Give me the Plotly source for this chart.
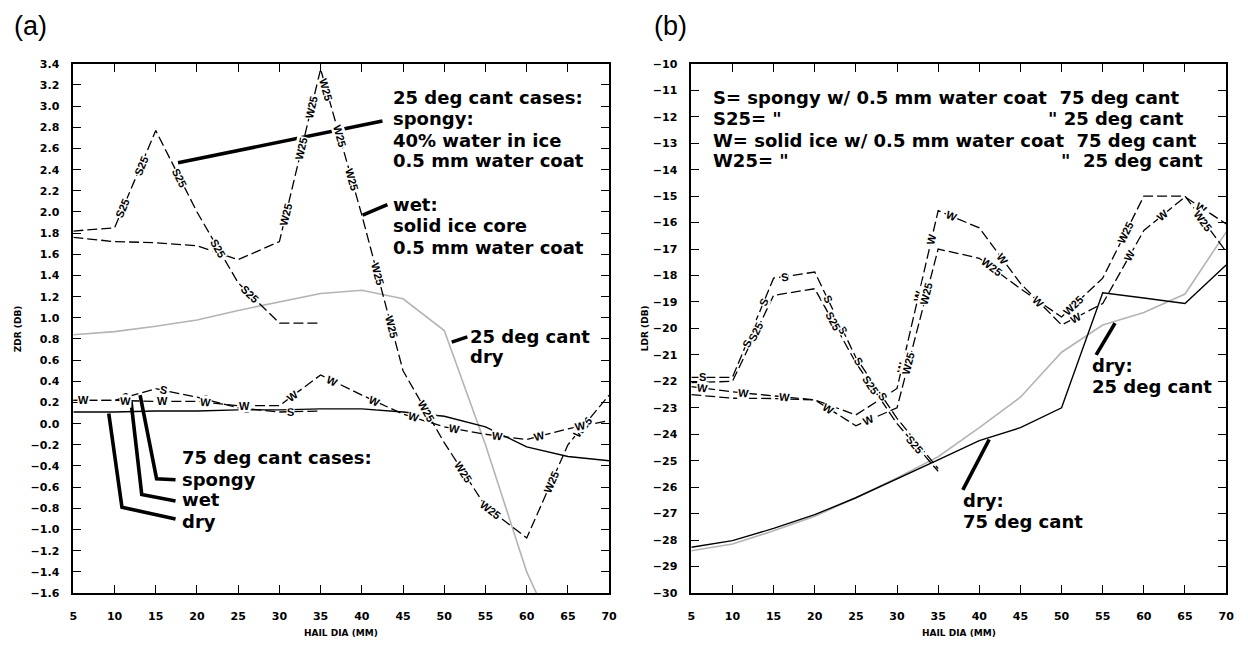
import math
import numpy as np
import plotly.graph_objects as go

W_PX, H_PX = 1248, 649

# ---------------------------------------------------------------- data
DIA = [5, 10, 15, 20, 25, 30, 35, 40, 45, 50, 55, 60, 65, 70]   # hail diameter (mm)
DIA_SHORT = DIA[:7]                                             # spongy cases stop at 35 mm

# Panel (a): ZDR (dB)
zdr_dry_75 = [0.11, 0.11, 0.12, 0.12, 0.13, 0.13, 0.14, 0.14, 0.11, 0.07, -0.03, -0.22, -0.31, -0.35]
zdr_dry_25 = [0.84, 0.87, 0.92, 0.98, 1.07, 1.15, 1.23, 1.26, 1.18, 0.88, -0.20, -1.40, -2.25]
zdr_spongy_75 = [0.22, 0.22, 0.33, 0.25, 0.15, 0.11, 0.12]
zdr_wet_75 = [0.22, 0.22, 0.21, 0.21, 0.17, 0.17, 0.46, 0.27, 0.09, -0.03, -0.10, -0.15, -0.05, 0.03]
zdr_spongy_25 = [1.82, 1.85, 2.77, 2.00, 1.33, 0.95, 0.95]
zdr_wet_25 = [1.76, 1.72, 1.71, 1.68, 1.55, 1.72, 3.35, 1.97, 0.50, -0.18, -0.78, -1.08, -0.20, 0.27]

# Panel (b): LDR (dB)
ldr_dry_75 = [-28.27, -28.02, -27.56, -27.04, -26.40, -25.70, -24.97, -24.24, -23.75, -23.00, -18.65, -18.85, -19.06, -17.60]
ldr_dry_25 = [-28.40, -28.15, -27.65, -27.10, -26.40, -25.65, -24.85, -23.75, -22.60, -20.90, -19.87, -19.40, -18.70, -16.36]
ldr_spongy_75 = [-21.85, -21.85, -18.10, -17.87, -21.10, -23.40, -25.30]
ldr_spongy_25 = [-22.05, -22.00, -18.75, -18.50, -21.30, -23.60, -25.40]
ldr_wet_75 = [-22.20, -22.40, -22.55, -22.70, -23.27, -22.27, -15.55, -16.20, -18.30, -19.87, -19.06, -16.30, -15.03, -16.05]
ldr_wet_25 = [-22.50, -22.64, -22.65, -22.70, -23.68, -23.00, -17.00, -17.35, -18.50, -19.57, -18.10, -15.00, -15.00, -17.10]

ZDR_TICKS = [round(-1.6 + 0.2 * i, 1) for i in range(26)]
LDR_TICKS = list(range(-30, -9))

# ---------------------------------------------------------------- layout geometry (pixels)
PLOT_TOP, PLOT_BOT = 59, 599
A_LEFT, A_RIGHT = 70, 611
B_LEFT, B_RIGHT = 694, 1234
ZDR_RANGE = [-1.6, 3.4]
LDR_RANGE = [-30, -10]

SX_A = (A_RIGHT - A_LEFT) / 65.0
SY_A = (PLOT_BOT - PLOT_TOP) / (ZDR_RANGE[1] - ZDR_RANGE[0])
SX_B = (B_RIGHT - B_LEFT) / 65.0
SY_B = (PLOT_BOT - PLOT_TOP) / (LDR_RANGE[1] - LDR_RANGE[0])

DASH = "10px,4px"
GRAY = "#b4b4b4"
LABEL_FONT = dict(family="Liberation Sans", size=11, color="black", weight="bold")
NOTE_FONT = dict(family="DejaVu Sans", size=18, color="black", weight="bold")
TICK_FONT = dict(family="DejaVu Sans", size=11, color="black", weight="bold")

fig = go.Figure()


def add_curve(x, y, xa, ya, color="black", dash=None, width=1.3):
    fig.add_trace(go.Scatter(
        x=x, y=y, xaxis=xa, yaxis=ya, mode="lines", hoverinfo="skip",
        line=dict(color=color, width=width, dash=dash), showlegend=False))


def add_inline_labels(x, y, spots, xa, ya, sx, sy):
    """Write curve tags along a line, rotated to the local segment direction."""
    xs = np.asarray(x, float)
    ys = np.asarray(y, float)
    for xl, txt in spots:
        yl = float(np.interp(xl, xs, ys))
        i = int(np.clip(np.searchsorted(xs, xl), 1, len(xs) - 1))
        dx = xs[i] - xs[i - 1]
        dy = ys[i] - ys[i - 1]
        ang = -math.degrees(math.atan2(dy * sy, dx * sx))
        fig.add_annotation(
            x=xl, y=yl, xref=xa, yref=ya, text=txt, textangle=ang,
            showarrow=False, bgcolor="white", borderpad=0, font=LABEL_FONT)


def add_pointer(pts, xa, ya):
    fig.add_trace(go.Scatter(
        x=[p[0] for p in pts], y=[p[1] for p in pts], xaxis=xa, yaxis=ya,
        mode="lines", hoverinfo="skip", showlegend=False,
        line=dict(color="black", width=3.6)))


def note(px, py, txt, anchor="left"):
    fig.add_annotation(
        x=px / W_PX, y=1 - py / H_PX, xref="paper", yref="paper", text=txt,
        showarrow=False, xanchor=anchor, yanchor="middle", font=NOTE_FONT, borderpad=0)


# ---------------------------------------------------------------- panel (a)
add_curve(DIA[:len(zdr_dry_25)], zdr_dry_25, "x", "y", color=GRAY, width=1.6)
add_curve(DIA, zdr_dry_75, "x", "y", width=1.4)
add_curve(DIA_SHORT, zdr_spongy_75, "x", "y", dash=DASH)
add_curve(DIA, zdr_wet_75, "x", "y", dash=DASH)
add_curve(DIA_SHORT, zdr_spongy_25, "x", "y", dash=DASH)
add_curve(DIA, zdr_wet_25, "x", "y", dash=DASH)

add_inline_labels(DIA_SHORT, zdr_spongy_25,
                  [(11.0, "S25"), (13.2, "S25"), (17.9, "S25"), (22.6, "S25"), (26.4, "S25")],
                  "x", "y", SX_A, SY_A)
add_inline_labels(DIA, zdr_wet_25,
                  [(30.8, "W25"), (32.7, "W25"), (33.9, "W25"), (35.7, "W25"), (37.3, "W25"),
                   (38.8, "W25"), (41.9, "W25"), (43.6, "W25"), (47.8, "W25"), (52.3, "W25"),
                   (55.6, "W25"), (63.0, "W25"), (66.8, "W25")],
                  "x", "y", SX_A, SY_A)
add_inline_labels(DIA_SHORT, zdr_spongy_75,
                  [(11.3, "S"), (16.0, "S"), (21.0, "S"), (26.0, "S"), (31.4, "S")],
                  "x", "y", SX_A, SY_A)
add_inline_labels(DIA, zdr_wet_75,
                  [(6.2, "W"), (11.3, "W"), (15.8, "W"), (21.0, "W"), (25.8, "W"), (31.6, "W"),
                   (36.4, "W"), (41.5, "W"), (46.3, "W"), (51.3, "W"), (56.4, "W"), (61.5, "W"),
                   (66.5, "W")],
                  "x", "y", SX_A, SY_A)

add_pointer([(17.7, 2.465), (42.5, 2.86)], "x", "y")
add_pointer([(40.1, 1.97), (43.1, 2.07)], "x", "y")
add_pointer([(50.9, 0.77), (52.8, 0.82)], "x", "y")
add_pointer([(9.3, 0.095), (10.9, -0.79), (17.4, -0.90)], "x", "y")
add_pointer([(12.0, 0.21), (13.3, -0.67), (17.4, -0.73)], "x", "y")
add_pointer([(13.1, 0.27), (15.1, -0.52), (17.4, -0.53)], "x", "y")

note(392, 93, "25 deg cant cases:")
note(392, 115, "spongy:")
note(392, 137, "40% water in ice")
note(392, 158, "0.5 mm water coat")
note(392, 203, "wet:")
note(392, 224, "solid ice core")
note(392, 246, "0.5 mm water coat")
note(470, 337, "25 deg cant")
note(470, 358, "dry")
note(179, 461, "75 deg cant cases:")
note(179, 483, "spongy")
note(179, 504, "wet")
note(179, 526, "dry")

# ---------------------------------------------------------------- panel (b)
add_curve(DIA, ldr_dry_25, "x2", "y2", color=GRAY, width=1.6)
add_curve(DIA, ldr_dry_75, "x2", "y2", width=1.4)
add_curve(DIA_SHORT, ldr_spongy_75, "x2", "y2", dash=DASH)
add_curve(DIA_SHORT, ldr_spongy_25, "x2", "y2", dash=DASH)
add_curve(DIA, ldr_wet_75, "x2", "y2", dash=DASH)
add_curve(DIA, ldr_wet_25, "x2", "y2", dash=DASH)

add_inline_labels(DIA_SHORT, ldr_spongy_75,
                  [(6.3, "S"), (11.7, "S"), (13.8, "S"), (16.3, "S"), (21.6, "S"), (23.4, "S"),
                   (25.3, "S"), (28.2, "S"), (33.0, "S")],
                  "x2", "y2", SX_B, SY_B)
add_inline_labels(DIA_SHORT, ldr_spongy_25,
                  [(12.9, "S25"), (22.2, "S25"), (26.8, "S25"), (32.2, "S25")],
                  "x2", "y2", SX_B, SY_B)
add_inline_labels(DIA, ldr_wet_75,
                  [(6.3, "W"), (11.4, "W"), (16.3, "W"), (30.6, "W"), (32.6, "W"), (34.2, "W"),
                   (36.6, "W"), (42.8, "W"), (47.2, "W"), (51.7, "W"), (58.3, "W"), (62.3, "W"),
                   (67.0, "W")],
                  "x2", "y2", SX_B, SY_B)
add_inline_labels(DIA, ldr_wet_25,
                  [(21.7, "W"), (26.5, "W"), (31.4, "W25"), (33.6, "W25"), (41.5, "W25"),
                   (51.5, "W25"), (57.8, "W25"), (67.2, "W25")],
                  "x2", "y2", SX_B, SY_B)

add_pointer([(54.2, -21.0), (56.5, -19.8)], "x2", "y2")
add_pointer([(38.0, -26.1), (41.2, -24.2)], "x2", "y2")

NB = "\u00a0"
note(715, 93, "S= spongy w/ 0.5 mm water coat" + NB + NB + "75 deg cant")
note(715, 115, "S25= \"")
note(1192, 115, "\" 25 deg cant", anchor="right")
note(715, 137, "W= solid ice w/ 0.5 mm water coat" + NB + NB + "75 deg cant")
note(715, 158, "W25= \"")
note(1212, 158, "\"" + NB + NB + "25 deg cant", anchor="right")
note(1098, 367, "dry:")
note(1098, 388, "25 deg cant")
note(967, 505, "dry:")
note(967, 526, "75 deg cant")

# panel tags and axis titles
for px, tag in [(8, "(a)"), (654, "(b)")]:
    fig.add_annotation(x=px / W_PX, y=1 - 20 / H_PX, xref="paper", yref="paper", text=tag,
                       showarrow=False, xanchor="left", yanchor="middle",
                       font=dict(family="Liberation Sans", size=27, color="black"))

TITLE_FONT = dict(family="DejaVu Sans", size=9, color="black", weight="bold")
for cx, txt in [((A_LEFT + A_RIGHT) / 2, "HAIL DIA (MM)"), ((B_LEFT + B_RIGHT) / 2, "HAIL DIA (MM)")]:
    fig.add_annotation(x=cx / W_PX, y=1 - 640 / H_PX, xref="paper", yref="paper", text=txt,
                       showarrow=False, xanchor="center", yanchor="middle", font=TITLE_FONT)
for cx, txt in [(15, "ZDR (DB)"), (648, "LDR (DB)")]:
    fig.add_annotation(x=cx / W_PX, y=1 - (PLOT_TOP + PLOT_BOT) / 2 / H_PX, xref="paper", yref="paper",
                       text=txt, textangle=-90, showarrow=False, xanchor="center", yanchor="middle",
                       font=TITLE_FONT)

# ---------------------------------------------------------------- axes
common = dict(showline=True, linecolor="black", linewidth=1.6, mirror="ticks",
              ticks="inside", ticklen=8, tickwidth=1.3, tickcolor="black",
              showgrid=False, zeroline=False, tickfont=TICK_FONT, fixedrange=True)
y_dom = [1 - PLOT_BOT / H_PX, 1 - PLOT_TOP / H_PX]

fig.update_layout(
    width=W_PX, height=H_PX, margin=dict(l=0, r=0, t=0, b=0),
    plot_bgcolor="white", paper_bgcolor="white", showlegend=False,
    xaxis=dict(domain=[A_LEFT / W_PX, A_RIGHT / W_PX], range=[5, 70], tickvals=DIA,
               anchor="y", ticklabelstandoff=12, **common),
    yaxis=dict(domain=y_dom, range=ZDR_RANGE, tickvals=ZDR_TICKS, tickformat=".1f",
               anchor="x", ticklabelstandoff=10, **common),
    xaxis2=dict(domain=[B_LEFT / W_PX, B_RIGHT / W_PX], range=[5, 70], tickvals=DIA,
                anchor="y2", ticklabelstandoff=12, **common),
    yaxis2=dict(domain=y_dom, range=LDR_RANGE, tickvals=LDR_TICKS,
                anchor="x2", ticklabelstandoff=10, **common),
)

fig.write_html("out.html")
